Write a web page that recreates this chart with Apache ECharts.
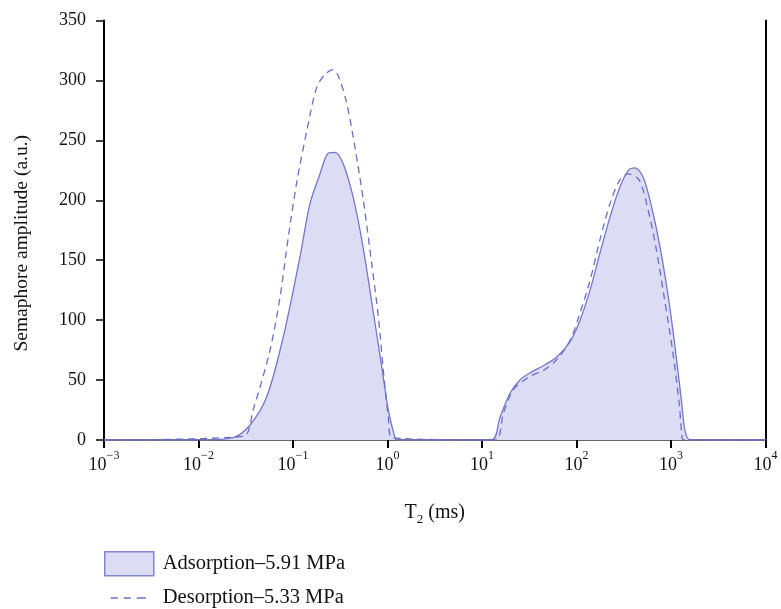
<!DOCTYPE html>
<html>
<head>
<meta charset="utf-8">
<script src="https://cdn.jsdelivr.net/npm/echarts@6/dist/echarts.min.js"></script>
<style>
html,body{margin:0;padding:0;background:#fff;}
#main{width:781px;height:609px;}
</style>
</head>
<body>
<div id="main"></div>
<script>
// T2 (ms) / amplitude
var adsT2 = [0.001, 0.01, 0.0233, 0.0351, 0.0527, 0.0789, 0.1186, 0.151, 0.193, 0.234, 0.278, 0.338, 0.432, 0.551, 0.703, 0.869, 1.02, 1.20, 1.26,
             12.6, 15.5, 19.8, 25.2, 32.2, 44.6, 61.7, 85.3, 109, 139, 177, 226, 288, 354, 416, 509, 625, 766, 938, 1102, 1297, 1406, 1589, 10000];
var adsAmp = [0, 0, 2, 12.5, 36, 86, 153, 197, 222, 239, 240, 231, 203, 161, 108, 61, 25, 2, 0,
              0, 19, 39, 50, 56, 62, 69, 82, 100, 125, 156, 186, 211, 225, 227, 219, 194, 161, 119, 78, 31, 8, 0, 0];
var desT2 = [0.001, 0.0296, 0.0378, 0.0571, 0.0728, 0.0891, 0.109, 0.140, 0.178, 0.218, 0.267, 0.301, 0.370, 0.453, 0.555, 0.681, 0.800, 0.904, 1.02, 1.11,
             13.7, 16.8, 21.5, 32.2, 44.6, 61.7, 85.3, 109, 139, 177, 226, 288, 354, 460, 564, 692, 847, 1038, 1219, 1297, 1349, 10000];
var desAmp = [0, 3, 25, 75, 119, 169, 214, 258, 294, 305, 309, 304, 281, 244, 200, 147, 103, 58, 19, 2,
              0, 22, 42, 53, 58, 67, 83, 106, 133, 167, 197, 217, 222, 217, 194, 161, 119, 75, 31, 6, 0, 0];
var exps = ['−3', '−2', '−1', '0', '1', '2', '3', '4'];
var seriesNames = ['Adsorption–5.91 MPa', 'Desorption–5.33 MPa'];

function pairs(xs, ys) {
    var out = [];
    for (var i = 0; i < xs.length; i++) out.push([xs[i], ys[i]]);
    return out;
}

var font = 'Liberation Serif';
var myChart = echarts.init(document.getElementById('main'));

option = {
    animation: false,
    textStyle: {fontFamily: font},
    grid: {left: 104, right: 15.5, top: 20.5, bottom: 169},
    xAxis: [{
        type: 'log',
        logBase: 10,
        min: 0.001,
        max: 10000,
        name: '{a|T}{s|2}{a| (ms)}',
        nameLocation: 'middle',
        nameGap: 60,
        nameTextStyle: {
            rich: {
                a: {fontFamily: font, fontSize: 20, color: '#111', lineHeight: 26},
                s: {fontFamily: font, fontSize: 13, color: '#111', verticalAlign: 'bottom', lineHeight: 16}
            }
        },
        axisLine: {lineStyle: {color: '#000', width: 2}},
        axisTick: {length: 8, lineStyle: {color: '#000', width: 2}},
        splitLine: {show: false},
        minorTick: {show: false},
        axisLabel: {
            margin: 10,
            formatter: function (v) {
                var e = Math.round(Math.log(v) / Math.LN10);
                return '{b|10}{s|' + exps[e + 3] + '}';
            },
            rich: {
                b: {fontFamily: font, fontSize: 18, color: '#111', lineHeight: 24, verticalAlign: 'bottom'},
                s: {fontFamily: font, fontSize: 12, color: '#111', lineHeight: 24, verticalAlign: 'top'}
            }
        }
    }, {
        type: 'value',
        position: 'top',
        min: 0, max: 1,
        axisLine: {show: true, lineStyle: {color: '#666', width: 2}},
        axisTick: {show: false},
        axisLabel: {show: false},
        splitLine: {show: false}
    }],
    yAxis: [{
        type: 'value',
        min: 0,
        max: 350,
        interval: 50,
        name: 'Semaphore amplitude (a.u.)',
        nameLocation: 'middle',
        nameGap: 72,
        nameTextStyle: {fontFamily: font, fontSize: 19.5, color: '#111', padding: [0, 26, 0, 0]},
        axisLine: {show: true, lineStyle: {color: '#000', width: 2}},
        axisTick: {show: true, length: 8, lineStyle: {color: '#000', width: 1.5}},
        splitLine: {show: false},
        axisLabel: {fontFamily: font, fontSize: 18, color: '#111', margin: 18}
    }, {
        type: 'value',
        position: 'right',
        min: 0, max: 1,
        axisLine: {show: true, onZero: false, lineStyle: {color: '#000', width: 2}},
        axisTick: {show: false},
        axisLabel: {show: false},
        splitLine: {show: false}
    }],
    legend: {
        orient: 'vertical',
        left: 104,
        top: 551,
        height: 60,
        padding: 0,
        itemWidth: 49,
        itemHeight: 24,
        itemGap: 11,
        textStyle: {fontFamily: font, fontSize: 20.5, color: '#111', padding: [0, 0, 0, 4]},
        data: [
            {name: seriesNames[0], icon: 'rect', itemStyle: {color: '#dcdcf5', borderColor: '#8286cf', borderWidth: 1.5}},
            {name: seriesNames[1], itemStyle: {opacity: 0}, lineStyle: {type: [0, 6, 7, 6, 7, 6, 9, 100], width: 1.5}}
        ]
    },
    series: [{
        name: seriesNames[0],
        type: 'line',
        smooth: 0.3,
        symbol: 'none',
        data: pairs(adsT2, adsAmp),
        lineStyle: {color: '#7478c6', width: 1.3},
        itemStyle: {color: '#7478c6'},
        areaStyle: {color: '#dcdcf5', opacity: 1}
    }, {
        name: seriesNames[1],
        type: 'line',
        smooth: 0.3,
        symbol: 'none',
        data: pairs(desT2, desAmp),
        lineStyle: {color: '#6a6fc2', width: 1.3, type: [7, 5]},
        itemStyle: {color: '#6a6fc2'}
    }]
};
myChart.setOption(option);
</script>
</body>
</html>
